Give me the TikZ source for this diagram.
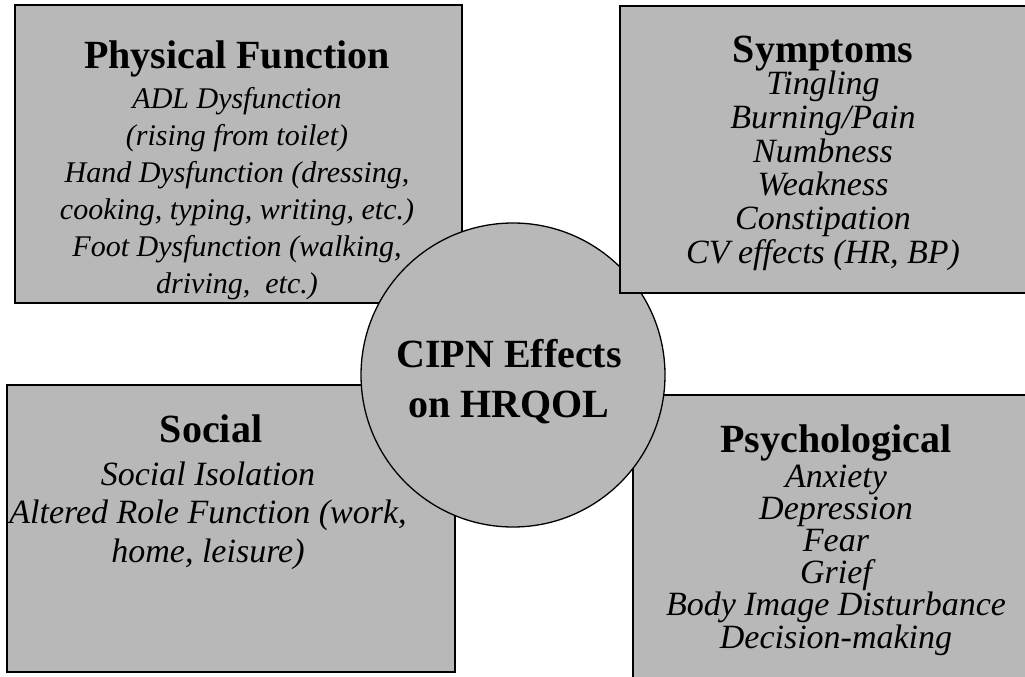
\documentclass[tikz,border=0pt]{standalone}
\usepackage{fontspec}
\setmainfont{Liberation Serif}

\begin{document}
\begin{tikzpicture}[x=1pt, y=-1pt,
  area/.style={
    % The shape:
    rectangle,
    % The border:
    draw=black, line width=1.5pt,
    % The filling:
    fill=black!28,
    % no padding
    inner sep=0pt
  },
  hub/.style={
    circle,
    minimum size=304pt,
    draw=black, line width=1.3pt,
    fill=black!28,
    inner sep=0pt
  },
  heading/.style={anchor=base, inner sep=0pt, font=\fontsize{40}{48}\selectfont\bfseries},
  item/.style={anchor=base, inner sep=0pt, font=\fontsize{#1}{#1}\selectfont\itshape},
  ]

  \clip (0,0) rectangle (1025,677);

  % the four areas and the hub, in stacking order
  \node (physbox) [area, minimum width=447pt, minimum height=298pt] at (238.5,154) {};
  \node (socbox) [area, minimum width=448pt, minimum height=287pt] at (231,528.5) {};
  \node (psybox) [area, minimum width=397pt, minimum height=295pt] at (831.5,542.5) {};
  \node (hub) [hub] at (513,375) {};
  \node (symbox) [area, minimum width=410pt, minimum height=287pt] at (825,149.5) {};

  % headings
  \node (physhead) [heading] at (237,68) {Physical Function};
  \node (symhead) [heading] at (823,63) {Symptoms};
  \node (sochead) [heading] at (211,442) {Social};
  \node (psyhead) [heading] at (836,452) {Psychological};
  \node (hubtop) [heading] at (509,367) {CIPN Effects};
  \node (hubbottom) [heading] at (509,417) {on HRQOL};

  % items of each area
  \foreach \txt [count=\k from 0] in {ADL Dysfunction, (rising from toilet),
    {Hand Dysfunction (dressing,}, {cooking, typing, writing, etc.)},
    {Foot Dysfunction (walking,}, {driving,~ etc.)}}
  {
    \node (phys\k) [item=30] at (237, 108+37*\k) {\txt};
  }
  \foreach \txt [count=\k from 0] in {Tingling, Burning/Pain, Numbness,
    Weakness, Constipation, {CV effects (HR, BP)}}
  {
    \node (sym\k) [item=34] at (823, 95+33.6*\k) {\txt};
  }
  \foreach \txt [count=\k from 0] in {Social Isolation,
    {Altered Role Function (work,}, {home, leisure)}}
  {
    \node (soc\k) [item=34] at (208, 485+38.5*\k) {\txt};
  }
  \foreach \txt [count=\k from 0] in {Anxiety, Depression, Fear, Grief,
    Body Image Disturbance, Decision-making}
  {
    \node (psy\k) [item=34] at (836, 487+32.2*\k) {\txt};
  }

\end{tikzpicture}
\end{document}
